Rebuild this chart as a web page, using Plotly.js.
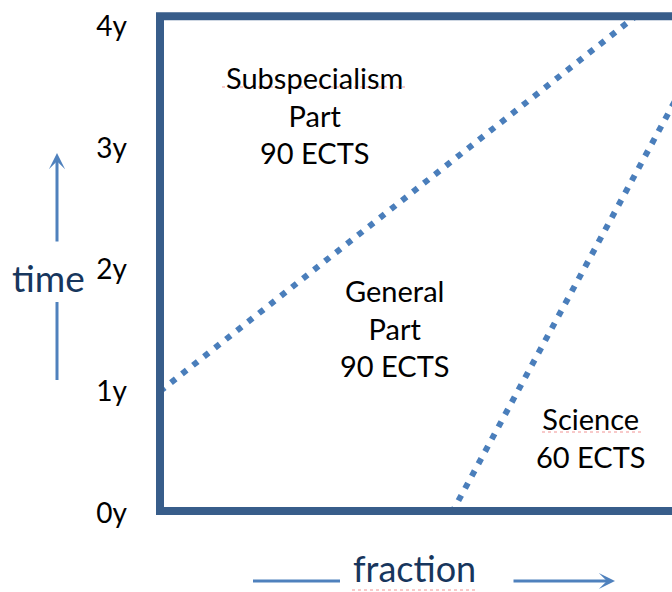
<!DOCTYPE html>
<html>
<head>
<meta charset="utf-8">
<script src="https://cdn.plot.ly/plotly-3.0.1.min.js"></script>
<style>html,body{margin:0;padding:0;background:#fff;overflow:hidden}</style>
</head>
<body>
<div id="chart" style="width:672px;height:592px"></div>
<script>
// ---- data ----
const yearTicks = [0, 1, 2, 3, 4];
const yearLabels = ['0y', '1y', '2y', '3y', '4y'];
// boundary between Subspecialism part and General part (fraction, years)
const subBoundaryX = [0, 0.82];
const subBoundaryY = [1, 4.08];
// boundary between General part and Science (fraction, years)
const sciBoundaryX = [0.503, 0.967];
const sciBoundaryY = [0, 4.08];
const regionNames = ['Subspecialism<br>Part', 'General<br>Part', 'Science'];
const regionECTS = [90, 90, 60];
const axisWords = ['time', 'fraction'];

// ---- layout helpers ----
const W = 672, H = 592, ML = 150, MR = 0, MT = 8, MB = 62;
const PW = W - ML - MR, PH = H - MT - MB;
const px = v => (v - ML) / PW;          // page x pixel -> paper
const py = v => (H - MB - v) / PH;      // page y pixel -> paper

const dotLine = {color: '#4A7EBB', width: 6, dash: '6px,8px'};
const traces = [
  {x: subBoundaryX, y: subBoundaryY, mode: 'lines', line: dotLine, hoverinfo: 'skip'},
  {x: sciBoundaryX, y: sciBoundaryY, mode: 'lines', line: dotLine, hoverinfo: 'skip'}
];

const frameColor = '#385D8A';
const arrowColor = '#4F81BD';
const navy = '#17365D';
const font = 'Lato, "Open Sans", sans-serif';

const labelPos = [[0.267, 3.27], [0.405, 1.52], [0.743, 0.62]];
const annotations = regionNames.map((n, i) => ({
  x: labelPos[i][0], y: labelPos[i][1], xref: 'x', yref: 'y',
  xanchor: 'center', yanchor: 'middle',
  text: n + '<br>' + regionECTS[i] + ' ECTS', showarrow: false,
  font: {family: font, size: 29, color: '#000'}, align: 'center'
}));
// axis words
annotations.push({x: px(48), y: py(277), xref: 'paper', yref: 'paper', text: axisWords[0],
  xanchor: 'center', yanchor: 'middle',
  showarrow: false, font: {family: font, size: 37, color: navy}});
annotations.push({x: px(414), y: py(591), xref: 'paper', yref: 'paper', text: axisWords[1],
  xanchor: 'center', yanchor: 'bottom', borderpad: 0,
  showarrow: false, font: {family: font, size: 36, color: navy}});
// arrows
annotations.push({x: px(57), y: py(153), xref: 'paper', yref: 'paper', ax: 0, ay: 90,
  text: '', showarrow: true, arrowhead: 3, arrowsize: 0.9, arrowwidth: 3, arrowcolor: arrowColor});
annotations.push({x: px(615), y: py(581), xref: 'paper', yref: 'paper', ax: -103, ay: 0,
  text: '', showarrow: true, arrowhead: 3, arrowsize: 0.9, arrowwidth: 3, arrowcolor: arrowColor});

const shapes = [
  // frame (left, top, bottom) - extends past the right edge
  {type: 'path', xref: 'x', yref: 'y', layer: 'above',
   path: 'M 1.0 4.08 L 0 4.08 L 0 0.016 L 1.0 0.016',
   line: {color: frameColor, width: 8}},
  // arrow tails
  {type: 'line', xref: 'paper', yref: 'paper', x0: px(57), x1: px(57), y0: py(302), y1: py(380),
   line: {color: arrowColor, width: 3}},
  {type: 'line', xref: 'paper', yref: 'paper', x0: px(253), x1: px(340), y0: py(581), y1: py(581),
   line: {color: arrowColor, width: 3}},
  // spell-check squiggles
  {type: 'line', xref: 'paper', yref: 'paper', x0: px(222), x1: px(408), y0: py(87), y1: py(87),
   line: {color: 'rgba(230,60,60,0.55)', width: 1.2, dash: 'dot'}},
  {type: 'line', xref: 'paper', yref: 'paper', x0: px(542), x1: px(643), y0: py(432), y1: py(432),
   line: {color: 'rgba(230,60,60,0.55)', width: 1.2, dash: 'dot'}},
  {type: 'line', xref: 'paper', yref: 'paper', x0: px(352), x1: px(478), y0: py(590), y1: py(590),
   line: {color: 'rgba(230,60,60,0.55)', width: 1.2, dash: 'dot'}}
];

const layout = {
  width: W, height: H,
  margin: {l: ML, r: MR, t: MT, b: MB, pad: 0},
  paper_bgcolor: '#fff', plot_bgcolor: '#fff',
  showlegend: false,
  xaxis: {range: [-10 / 580, 512 / 580], showgrid: false, zeroline: false, showline: false,
          showticklabels: false, ticks: '', fixedrange: true},
  yaxis: {range: [(513 - (H - MB)) / 121.75, (513 - MT) / 121.75], showgrid: false, zeroline: false,
          showline: false, tickmode: 'array', tickvals: yearTicks, ticktext: yearLabels,
          ticks: '', ticklabelstandoff: 22, tickfont: {family: font, size: 28, color: '#000'},
          fixedrange: true},
  annotations: annotations,
  shapes: shapes
};

Plotly.newPlot('chart', traces, layout, {displayModeBar: false, staticPlot: true});
</script>
</body>
</html>
